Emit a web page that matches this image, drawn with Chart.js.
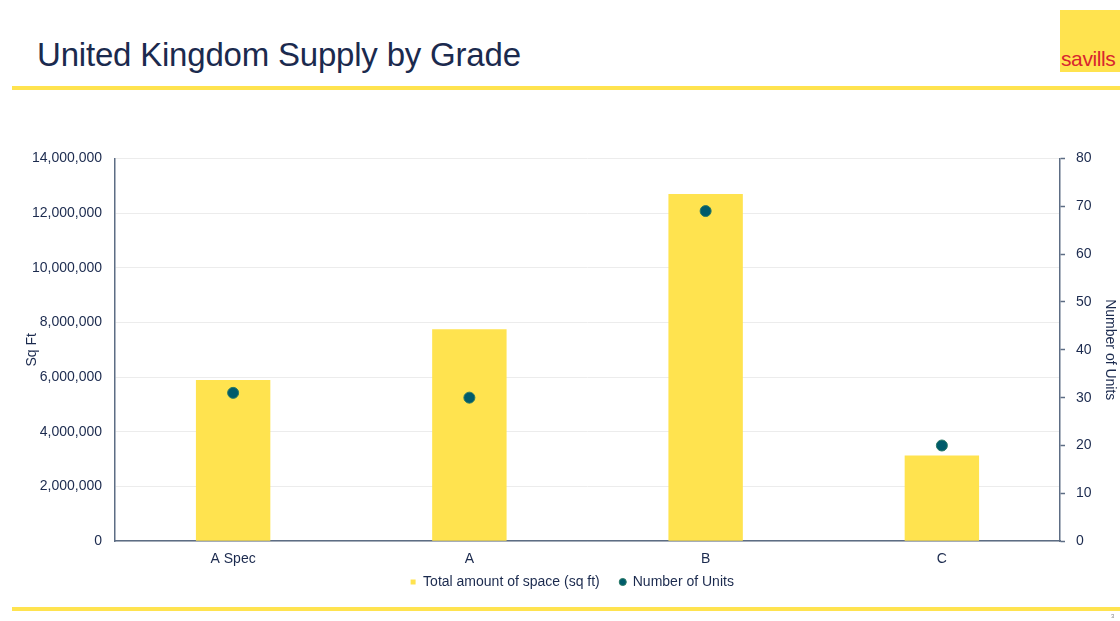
<!DOCTYPE html>
<html><head><meta charset="utf-8">
<script src="https://cdn.jsdelivr.net/npm/chart.js@4/dist/chart.umd.min.js"></script>
<style>
html,body{margin:0;padding:0;background:#fff;width:1120px;height:621px;overflow:hidden;font-family:"Liberation Sans",Arial,sans-serif;position:relative;}
#title{position:absolute;left:37px;top:35px;font-size:33px;line-height:40px;color:#1b2a4e;letter-spacing:-0.2px;}
#topline{position:absolute;left:12px;top:86px;width:1108px;height:4px;background:#ffe34f;}
#botline{position:absolute;left:12px;top:607px;width:1108px;height:4px;background:#ffe34f;}
#logo{position:absolute;left:1060px;top:10px;width:60px;height:62px;background:#ffe34f;}
#logo span{position:absolute;left:1px;top:38px;font-size:21px;line-height:22px;color:#d8262e;letter-spacing:-0.4px;}
#pg{position:absolute;left:1111px;top:613px;font-size:6px;color:#888;}
#wrap{position:absolute;left:0;top:137px;width:1120px;height:485px;}
</style></head>
<body>
<div id="title">United Kingdom Supply by Grade</div>
<div id="topline"></div>
<div id="logo"><span>savills</span></div>
<div id="wrap"><canvas id="c"></canvas></div>
<div id="botline"></div>
<div id="pg">3</div>
<script>
const categories = ["A Spec", "A", "B", "C"];
const totalSpace = [5900000, 7750000, 12700000, 3130000];
const numberOfUnits = [31, 30, 69, 20];
const leftTicks = [0, 2000000, 4000000, 6000000, 8000000, 10000000, 12000000, 14000000];
const rightTicks = [0, 10, 20, 30, 40, 50, 60, 70, 80];

const textColor = '#1b2a4e';
const axisColor = '#5d6d84';
const fontFam = '"Liberation Sans", Arial, sans-serif';
const fs = 14;

const legendLift = {
  id: 'legendLift',
  afterLayout(chart) {
    const lg = chart.legend;
    if (lg) { lg.top -= 23; lg.bottom -= 23; }
  }
};

new Chart(document.getElementById('c'), {
  data: {
    labels: categories,
    datasets: [
      {type:'bar', label:'Total amount of space (sq ft)', data: totalSpace, backgroundColor:'#ffe34f',
       yAxisID:'y', order:2, barPercentage:0.315, categoryPercentage:1, pointStyle:'rect'},
      {type:'line', label:'Number of Units', data: numberOfUnits, showLine:false, yAxisID:'y1', order:1,
       pointRadius:5.5, pointBackgroundColor:'#005b6b', pointBorderColor:'#2a7a66', pointBorderWidth:1, pointStyle:'circle'}
    ]
  },
  plugins: [legendLift],
  options: {
    responsive:true, maintainAspectRatio:false, animation:false,
    layout:{padding:{top:9, right:0, left:24, bottom:0}},
    plugins:{
      legend:{position:'bottom', labels:{usePointStyle:true, boxWidth:6, boxHeight:5, padding:20,
        font:{size:fs, family:fontFam}, color:textColor,
        sort:(a,b)=>a.datasetIndex-b.datasetIndex}},
      tooltip:{enabled:false}
    },
    scales:{
      x:{grid:{display:false, drawTicks:false}, border:{color:axisColor, width:1.5},
         ticks:{color:textColor, font:{size:fs, family:fontFam}, padding:10}},
      y:{position:'left', min:0, max:14000000,
         afterBuildTicks:(s)=>{s.ticks = leftTicks.map(v=>({value:v}));},
         afterFit:(s)=>{s.width=91;},
         grid:{color:'#ececec', drawTicks:false}, border:{color:axisColor, width:1.5},
         ticks:{color:textColor, font:{size:fs, family:fontFam}, padding:13,
           callback:(v)=>v.toLocaleString('en-US')},
         title:{display:true, text:'Sq Ft', color:textColor, font:{size:fs, family:fontFam}, padding:0}},
      y1:{position:'right', min:0, max:80,
         afterBuildTicks:(s)=>{s.ticks = rightTicks.map(v=>({value:v}));},
         afterFit:(s)=>{s.width=60;},
         grid:{drawOnChartArea:false, drawTicks:true, tickLength:5, color:axisColor, tickWidth:1.5},
         border:{color:axisColor, width:1.5},
         ticks:{color:textColor, font:{size:fs, family:fontFam}, padding:11},
         title:{display:true, text:'Number of Units', color:textColor, font:{size:fs, family:fontFam}, padding:{top:2,bottom:0}}}
    }
  }
});
</script>
</body></html>
